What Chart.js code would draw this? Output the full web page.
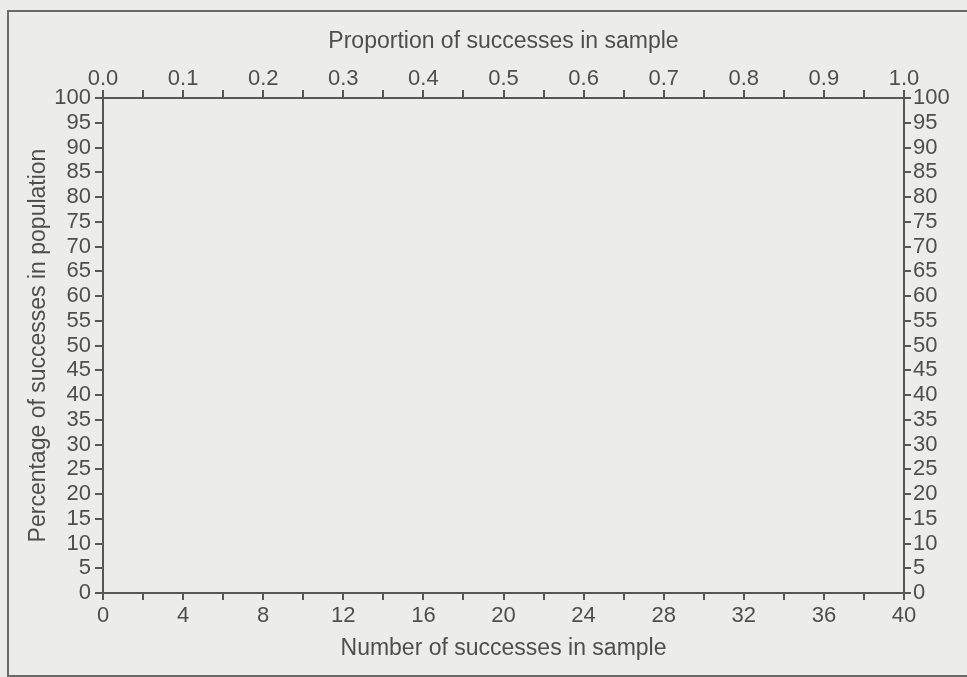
<!DOCTYPE html>
<html>
<head>
<meta charset="utf-8">
<script src="https://cdn.jsdelivr.net/npm/chart.js@4.4.1/dist/chart.umd.min.js"></script>
<style>
  html, body { margin: 0; padding: 0; background: #ececea; overflow: hidden; }
  #wrap { position: relative; width: 967px; height: 677px; overflow: hidden; }
  #frame { position: absolute; left: 7px; top: 10px; width: 980px; height: 663px; border: 2px solid #6a6a6a; }
  canvas { position: absolute; left: 0; top: 0; }
</style>
</head>
<body>
<div id="wrap">
  <div id="frame"></div>
  <canvas id="chart" width="967" height="677"></canvas>
</div>
<script>
// bottom axis: number of successes (ticks every 2, labels every 4)
var countLabels = [0, 4, 8, 12, 16, 20, 24, 28, 32, 36, 40];
// top axis: proportion of successes (ticks every 0.05, labels every 0.1)
var proportionLabels = ['0.0', '0.1', '0.2', '0.3', '0.4', '0.5', '0.6', '0.7', '0.8', '0.9', '1.0'];
// left and right axes: percentage in population
var percentLabels = [0, 5, 10, 15, 20, 25, 30, 35, 40, 45, 50, 55, 60, 65, 70, 75, 80, 85, 90, 95, 100];
// the chart is a blank grid, no plotted values
var samplePoints = [];

var ink = '#4e4e4e';
var axisLine = '#575757';
var tickFont = { family: 'Liberation Sans, Arial, sans-serif', size: 22 };
var titleFont = { family: 'Liberation Sans, Arial, sans-serif', size: 23 };

function fixSize(prop, px) {
    return function(scale) { scale[prop] = px; };
}

new Chart(document.getElementById('chart'), {
    type: 'scatter',
    data: {
        datasets: [{
            data: samplePoints,
            xAxisID: 'x',
            yAxisID: 'y'
        }]
    },
    options: {
        responsive: false,
        animation: false,
        layout: { padding: 0 },
        plugins: { legend: { display: false }, tooltip: { enabled: false } },
        scales: {
            x: {
                type: 'linear', position: 'bottom',
                min: countLabels[0], max: countLabels[countLabels.length - 1],
                afterFit: fixSize('height', 84),
                border: { display: true, color: axisLine, width: 2 },
                grid: { drawOnChartArea: false, drawTicks: true, tickLength: 7, color: axisLine, lineWidth: 2 },
                ticks: {
                    stepSize: 2, autoSkip: false, maxRotation: 0, padding: 3, color: ink, font: tickFont,
                    callback: function(v) { return countLabels.indexOf(v) >= 0 ? String(v) : ''; }
                },
                title: { display: true, text: 'Number of successes in sample', color: ink, font: titleFont, padding: { top: 0, bottom: 15 } }
            },
            x2: {
                type: 'linear', position: 'top',
                min: 0, max: 1,
                afterFit: fixSize('height', 98),
                border: { display: true, color: axisLine, width: 2 },
                grid: { drawOnChartArea: false, drawTicks: true, tickLength: 8, color: axisLine, lineWidth: 2 },
                ticks: {
                    stepSize: 0.05, autoSkip: false, maxRotation: 0, padding: -2, color: ink, font: tickFont,
                    callback: function(v) {
                        for (var i = 0; i < proportionLabels.length; i++) {
                            if (Math.abs(parseFloat(proportionLabels[i]) - v) < 1e-6) return proportionLabels[i];
                        }
                        return '';
                    }
                },
                title: { display: true, text: 'Proportion of successes in sample', color: ink, font: titleFont, padding: { top: 28, bottom: 0 } }
            },
            y: {
                type: 'linear', position: 'left',
                min: percentLabels[0], max: percentLabels[percentLabels.length - 1],
                afterFit: fixSize('width', 103),
                border: { display: true, color: axisLine, width: 2 },
                grid: { drawOnChartArea: false, drawTicks: true, tickLength: 8, color: axisLine, lineWidth: 2 },
                ticks: { stepSize: 5, autoSkip: false, padding: 4, color: ink, font: tickFont },
                title: { display: true, text: 'Percentage of successes in population', color: ink, font: titleFont, padding: { top: 25, bottom: 0 } }
            },
            y2: {
                type: 'linear', position: 'right',
                min: percentLabels[0], max: percentLabels[percentLabels.length - 1],
                afterFit: fixSize('width', 63),
                border: { display: true, color: axisLine, width: 2 },
                grid: { drawOnChartArea: false, drawTicks: true, tickLength: 7, color: axisLine, lineWidth: 2 },
                ticks: { stepSize: 5, autoSkip: false, padding: 2, color: ink, font: tickFont }
            }
        }
    }
});
</script>
</body>
</html>
